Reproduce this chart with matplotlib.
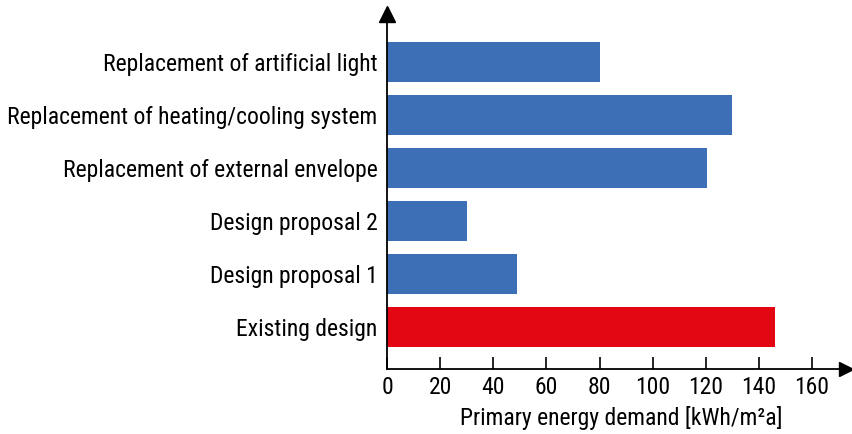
import matplotlib
matplotlib.use("Agg")
import matplotlib.pyplot as plt
from matplotlib import font_manager

categories = ["Existing design", "Design proposal 1", "Design proposal 2",
              "Replacement of external envelope",
              "Replacement of heating/cooling system",
              "Replacement of artificial light"]
values = [146, 49, 30, 120.5, 130, 80]
colors = ["#E30613", "#3C6FB5", "#3C6FB5", "#3C6FB5", "#3C6FB5", "#3C6FB5"]
xticks = [0, 20, 40, 60, 80, 100, 120, 140, 160]
xlabel = "Primary energy demand [kWh/m²a]"

names = {f.name for f in font_manager.fontManager.ttflist}
fam = "Roboto"
for cand in ["Roboto Condensed", "Archivo Narrow", "Liberation Sans Narrow"]:
    if cand in names:
        fam = cand
        break
plt.rcParams["font.family"] = [fam, "DejaVu Sans"]

W, H = 853, 434
fig = plt.figure(figsize=(W / 100, H / 100), dpi=100)
x0, y0 = 387.3, 369
x1, y1 = 846, 14
ax = fig.add_axes([x0 / W, (H - y0) / H, (x1 - x0) / W, (y0 - y1) / H])
ax.set_xlim(0, (x1 - x0) / 2.653)
ax.set_ylim(-0.79, 5.905)

ax.barh(range(len(categories)), values, height=0.74, color=colors)
ax.set_yticks(range(len(categories)))
ax.set_yticklabels(categories, fontsize=17)
ax.tick_params(axis="y", length=0, pad=7)
ax.set_xticks(xticks)
ax.set_xticklabels([str(t) for t in xticks], fontsize=17)
ax.tick_params(axis="x", direction="in", length=9, width=1.2, pad=5)
for s in ["top", "right"]:
    ax.spines[s].set_visible(False)
for s in ["left", "bottom"]:
    ax.spines[s].set_linewidth(1.3)
    ax.spines[s].set_color("black")
ax.set_xlabel(xlabel, fontsize=17)
ax.xaxis.set_label_coords((621.5 - x0) / (x1 - x0), -0.105)

# arrow heads
ax.plot(1, 0, ">", transform=ax.transAxes, color="black", markersize=10.5, clip_on=False)
ax.plot(0, 1, "^", transform=ax.transAxes, color="black", markersize=12, clip_on=False)

fig.savefig("out.png", dpi=100)
